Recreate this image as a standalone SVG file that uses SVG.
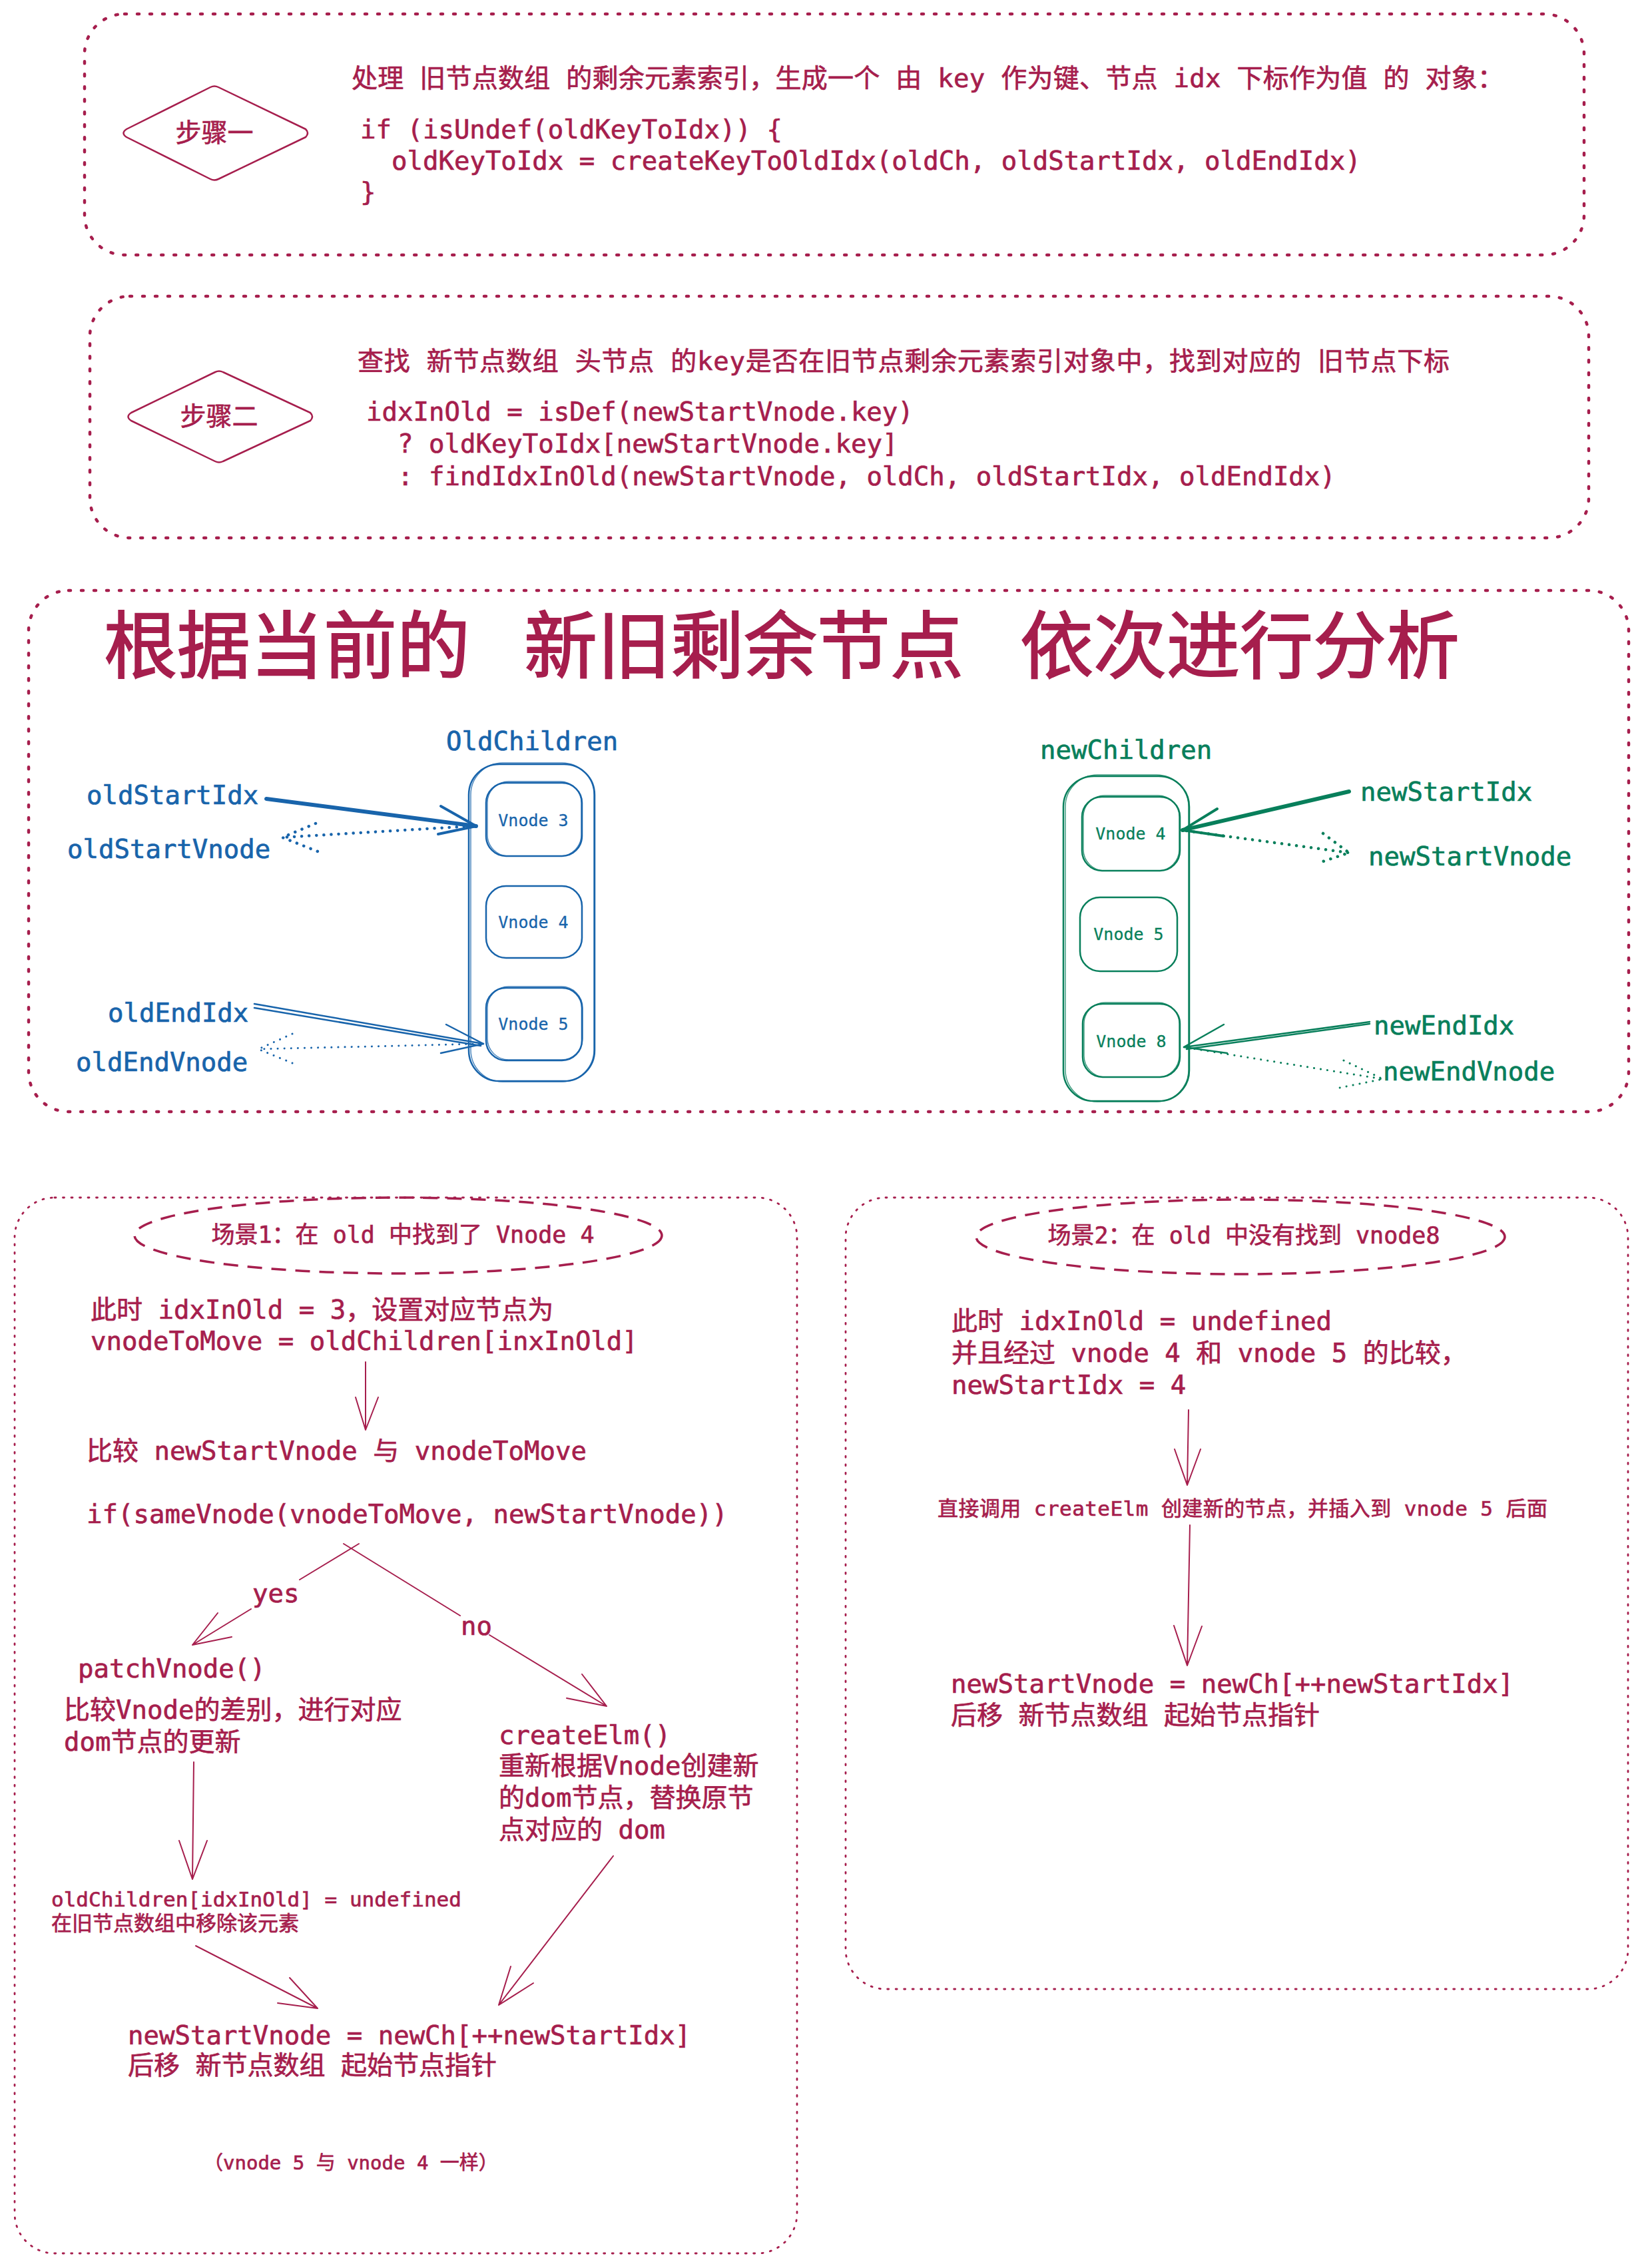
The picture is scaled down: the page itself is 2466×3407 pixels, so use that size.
<svg xmlns="http://www.w3.org/2000/svg" width="2466" height="3407" viewBox="0 0 2466 3407">
<style>
text { font-family: 'DejaVu Sans Mono', 'Noto Sans CJK SC', monospace; stroke-width: 0.7; }
.r { fill: #a61e4d; stroke: #a61e4d; }
.b { fill: #1864ab; stroke: #1864ab; }
.g { fill: #087f5b; stroke: #087f5b; }
.f39 { font-size: 39px; }
.f35 { font-size: 35px; }
.f31 { font-size: 31px; }
.f29 { font-size: 29px; }
.f25 { font-size: 25px; stroke-width: 0.3; }
.title { font-size: 110px; stroke-width: 2; }
.mid { text-anchor: middle; }
.dotbox { fill: none; stroke: #a61e4d; stroke-width: 4.5; stroke-dasharray: 3 16; stroke-linecap: round; }
.dotbox2 { fill: none; stroke: #a61e4d; stroke-width: 2.8; stroke-dasharray: 2 10.5; stroke-linecap: round; }
.dashell { fill: none; stroke: #a61e4d; stroke-width: 3.5; stroke-dasharray: 22 14; }
.diam { fill: none; stroke: #a61e4d; stroke-width: 2.5; stroke-linejoin: round; }
.rl { fill: none; stroke: #a61e4d; stroke-width: 2; stroke-linecap: round; stroke-linejoin: round; }
.bl { fill: none; stroke: #1864ab; stroke-width: 2.5; stroke-linecap: round; stroke-linejoin: round; }
.gl { fill: none; stroke: #087f5b; stroke-width: 2.5; stroke-linecap: round; stroke-linejoin: round; }
.thin { stroke-width: 1.4; opacity: 0.8; }
.thick { stroke-width: 6; }
.head { stroke-width: 4; }
.dots { stroke-dasharray: 0.1 11; stroke-width: 4.5; }
.dotsS { stroke-dasharray: 0.1 10; stroke-width: 3; }
</style>

<g id="step1">
  <rect class="dotbox" x="127" y="21" width="2252" height="362" rx="60"/>
  <path class="diam" d="M190,194 L316,131 Q322,128 328,131 L459,194 Q465,200 459,206 L328,269 Q322,272 316,269 L190,206 Q181,200 190,194 Z"/>
  <text class="r f39 mid" x="322" y="213">步骤一</text>
  <text class="r f39" x="528" y="131" textLength="1730" lengthAdjust="spacing">处理 旧节点数组 的剩余元素索引，生成一个 由 key 作为键、节点 idx 下标作为值 的 对象：</text>
  <text class="r f39" x="541" y="208">if (isUndef(oldKeyToIdx)) {</text>
  <text class="r f39" x="588" y="255">oldKeyToIdx = createKeyToOldIdx(oldCh, oldStartIdx, oldEndIdx)</text>
  <text class="r f39" x="541" y="302">}</text>
</g>

<g id="step2">
  <rect class="dotbox" x="135" y="445" width="2251" height="363" rx="60"/>
  <path class="diam" d="M197,620 L323,559 Q329,556 335,559 L466,620 Q472,626 466,632 L335,693 Q329,696 323,693 L197,632 Q188,626 197,620 Z"/>
  <text class="r f39 mid" x="329" y="639">步骤二</text>
  <text class="r f39" x="537" y="556" textLength="1640" lengthAdjust="spacing">查找 新节点数组 头节点 的key是否在旧节点剩余元素索引对象中，找到对应的 旧节点下标</text>
  <text class="r f39" x="550" y="632">idxInOld = isDef(newStartVnode.key)</text>
  <text class="r f39" x="597" y="680">? oldKeyToIdx[newStartVnode.key]</text>
  <text class="r f39" x="597" y="729">: findIdxInOld(newStartVnode, oldCh, oldStartIdx, oldEndIdx)</text>
</g>

<g id="analysis">
  <rect class="dotbox" x="43" y="887" width="2403" height="783" rx="60"/>
  <text class="r title" x="156" y="1010">根据当前的</text>
  <text class="r title" x="787" y="1010">新旧剩余节点</text>
  <text class="r title" x="1532" y="1010">依次进行分析</text>
</g>

<g id="oldChildren">
  <text class="b f39" x="670" y="1127">OldChildren</text>
  <rect class="bl" x="704" y="1148" width="189" height="476" rx="46"/>
  <rect class="bl thin" x="707" y="1146" width="185" height="479" rx="48"/>
</g>
<g id="old-vnode3">
  <rect class="bl" x="730" y="1176" width="144" height="110" rx="30"/>
  <rect class="bl thin" x="732" y="1174" width="141" height="112" rx="32"/>
  <text class="b f25 mid" x="801" y="1241">Vnode 3</text>
</g>
<g id="old-vnode4">
  <rect class="bl" x="730" y="1331" width="144" height="108" rx="30"/>
  <text class="b f25 mid" x="801" y="1394">Vnode 4</text>
</g>
<g id="old-vnode5">
  <rect class="bl" x="730" y="1484" width="144" height="109" rx="30"/>
  <rect class="bl thin" x="732" y="1482" width="143" height="110" rx="32"/>
  <text class="b f25 mid" x="801" y="1547">Vnode 5</text>
</g>
<g id="old-labels">
  <text class="b f39" x="130" y="1208">oldStartIdx</text>
  <text class="b f39" x="101" y="1289">oldStartVnode</text>
  <text class="b f39" x="162" y="1535">oldEndIdx</text>
  <text class="b f39" x="114" y="1609">oldEndVnode</text>
</g>

<g id="newChildren">
  <text class="g f39" x="1562" y="1140">newChildren</text>
  <rect class="gl" x="1597" y="1166" width="189" height="488" rx="46"/>
  <rect class="gl thin" x="1600" y="1164" width="185" height="491" rx="48"/>
</g>
<g id="new-vnode4">
  <rect class="gl" x="1625" y="1197" width="147" height="111" rx="30"/>
  <rect class="gl thin" x="1627" y="1195" width="144" height="113" rx="32"/>
  <text class="g f25 mid" x="1698" y="1261">Vnode 4</text>
</g>
<g id="new-vnode5">
  <rect class="gl" x="1622" y="1348" width="146" height="111" rx="30"/>
  <text class="g f25 mid" x="1695" y="1412">Vnode 5</text>
</g>
<g id="new-vnode8">
  <rect class="gl" x="1626" y="1508" width="146" height="110" rx="30"/>
  <rect class="gl thin" x="1628" y="1506" width="143" height="112" rx="32"/>
  <text class="g f25 mid" x="1699" y="1573">Vnode 8</text>
</g>
<g id="new-labels">
  <text class="g f39" x="2043" y="1203">newStartIdx</text>
  <text class="g f39" x="2055" y="1300">newStartVnode</text>
  <text class="g f39" x="2063" y="1554">newEndIdx</text>
  <text class="g f39" x="2077" y="1623">newEndVnode</text>
</g>

<g id="scene1">
  <rect class="dotbox2" x="22" y="1799" width="1175" height="1586" rx="60"/>
  <ellipse class="dashell" cx="598" cy="1856" rx="396" ry="57"/>
  <text class="r f35 mid" x="605" y="1867">场景1：在 old 中找到了 Vnode 4</text>
  <text class="r f39" x="136" y="1981">此时 idxInOld = 3，设置对应节点为</text>
  <text class="r f39" x="136" y="2028">vnodeToMove = oldChildren[inxInOld]</text>
  <text class="r f39" x="130" y="2193">比较 newStartVnode 与 vnodeToMove</text>
  <text class="r f39" x="130" y="2288">if(sameVnode(vnodeToMove, newStartVnode))</text>
  <text class="r f39" x="379" y="2407">yes</text>
  <text class="r f39" x="692" y="2456">no</text>
  <text class="r f39" x="117" y="2520">patchVnode()</text>
  <text class="r f39" x="96" y="2582">比较Vnode的差别，进行对应</text>
  <text class="r f39" x="96" y="2630">dom节点的更新</text>
  <text class="r f39" x="749" y="2620">createElm()</text>
  <text class="r f39" x="749" y="2666">重新根据Vnode创建新</text>
  <text class="r f39" x="749" y="2714">的dom节点，替换原节</text>
  <text class="r f39" x="749" y="2762">点对应的 dom</text>
  <text class="r f31" x="77" y="2864">oldChildren[idxInOld] = undefined</text>
  <text class="r f31" x="77" y="2900">在旧节点数组中移除该元素</text>
  <text class="r f39" x="192" y="3071">newStartVnode = newCh[++newStartIdx]</text>
  <text class="r f39" x="192" y="3116">后移 新节点数组 起始节点指针</text>
  <text class="r f29" x="306" y="3259">（vnode 5 与 vnode 4 一样）</text>
</g>

<g id="scene2">
  <rect class="dotbox2" x="1270" y="1799" width="1175" height="1189" rx="60"/>
  <ellipse class="dashell" cx="1863" cy="1858" rx="397" ry="56"/>
  <text class="r f35 mid" x="1868" y="1868">场景2：在 old 中没有找到 vnode8</text>
  <text class="r f39" x="1429" y="1998">此时 idxInOld = undefined</text>
  <text class="r f39" x="1429" y="2046">并且经过 vnode 4 和 vnode 5 的比较，</text>
  <text class="r f39" x="1429" y="2094">newStartIdx = 4</text>
  <text class="r f31" x="1408" y="2277" textLength="916" lengthAdjust="spacing">直接调用 createElm 创建新的节点，并插入到 vnode 5 后面</text>
  <text class="r f39" x="1428" y="2543">newStartVnode = newCh[++newStartIdx]</text>
  <text class="r f39" x="1428" y="2590">后移 新节点数组 起始节点指针</text>
</g>

<g id="connectors">
  <path class="bl thick" d="M400,1200 L715,1241"/>
  <path class="bl head" d="M662,1211 L715,1241 L658,1253"/>
  <path class="bl dots" d="M708,1241 L424,1258"/>
  <path class="bl dots" d="M474,1237 L424,1258 L477,1279"/>
  <path class="bl" stroke-width="2" d="M382,1508 L726,1568 M382,1514 L722,1571"/>
  <path class="bl" stroke-width="2" d="M670,1539 L726,1568 L662,1582"/>
  <path class="bl dotsS" d="M720,1568 L388,1576"/>
  <path class="bl dotsS" d="M439,1553 L388,1576 L439,1597"/>

  <path class="gl thick" d="M2026,1189 L1776,1247"/>
  <path class="gl head" d="M1828,1215 L1776,1247 L1838,1256"/>
  <path class="gl dots" d="M1782,1248 L2026,1281"/>
  <path class="gl dots" d="M1987,1252 L2026,1281 L1981,1296"/>
  <path class="gl" stroke-width="2" d="M2057,1535 L1778,1573 M2057,1538 L1782,1576"/>
  <path class="gl" stroke-width="2" d="M1838,1539 L1778,1573 L1843,1582"/>
  <path class="gl dotsS" d="M1784,1574 L2077,1621"/>
  <path class="gl dotsS" d="M2018,1593 L2077,1621 L2012,1634"/>

  <path class="rl" d="M549,2046 L549,2148 M534,2099 L549,2148 L568,2099"/>
  <path class="rl" d="M539,2319 L450,2373 M377,2417 L289,2471 M327,2423 L289,2471 L348,2459"/>
  <path class="rl" d="M516,2319 L691,2427 M735,2456 L911,2563 M874,2515 L911,2563 L851,2551"/>
  <path class="rl" d="M291,2647 L289,2823 M269,2765 L289,2823 L311,2765"/>
  <path class="rl" d="M294,2923 L477,3017 M435,2971 L477,3017 L417,3009"/>
  <path class="rl" d="M921,2788 L749,3012 M767,2954 L749,3012 L801,2979"/>

  <path class="rl" d="M1785,2118 L1783,2231 M1764,2177 L1783,2231 L1803,2177"/>
  <path class="rl" d="M1787,2291 L1783,2502 M1763,2442 L1783,2502 L1805,2443"/>
</g>
</svg>
